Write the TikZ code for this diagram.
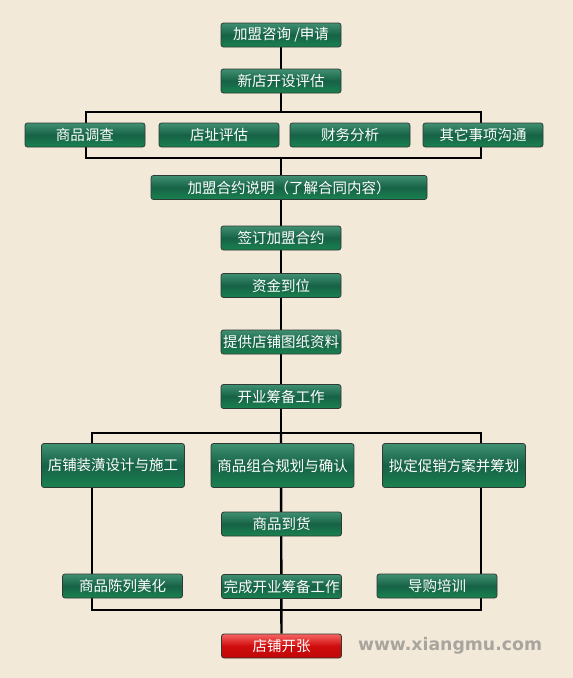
\documentclass[tikz,border=0pt]{standalone}
\usepackage{fontspec}
\newfontfamily\cjk{Noto Sans CJK SC}
\setsansfont{DejaVu Sans}
\usetikzlibrary{backgrounds}
\definecolor{bgc}{RGB}{242,233,217}
\definecolor{gtop}{RGB}{64,144,114}
\definecolor{gmid}{RGB}{22,98,70}
\definecolor{gbot}{RGB}{26,130,80}
\definecolor{rtop}{RGB}{246,100,100}
\definecolor{rmid}{RGB}{208,12,12}
\definecolor{rbot}{RGB}{190,8,8}
\definecolor{edgec}{RGB}{48,58,52}
\definecolor{markc}{RGB}{168,164,158}
\tikzset{
  gbox/.style={rectangle,rounded corners=2.5pt,draw=edgec,line width=0.8pt,top color=gtop,bottom color=gbot,middle color=gmid,minimum width=120pt,minimum height=24pt,inner sep=0pt,text=white,font=\cjk\fontsize{14.5}{16}\selectfont},
  tall/.style={minimum width=143pt,minimum height=44pt},
  rbox/.style={gbox,top color=rtop,bottom color=rbot,middle color=rmid},
  link/.style={line width=2.4pt,black},
}
\begin{document}
\begin{tikzpicture}[x=1pt,y=-1pt]
  \useasboundingbox (0,0) rectangle (573,678);
  % steps of the flow
  \node[gbox] (apply) at (281,35) {加盟咨询 /申请};
  \node[gbox] (assess) at (281,81) {新店开设评估};
  \node[gbox] (survey) at (85,135) {商品调查};
  \node[gbox] (site) at (219,135) {店址评估};
  \node[gbox] (finance) at (350,135) {财务分析};
  \node[gbox] (other) at (483,135) {其它事项沟通};
  \node[gbox,minimum width=276pt] (explain) at (289,187.5) {加盟合约说明（了解合同内容）};
  \node[gbox] (sign) at (281,238) {签订加盟合约};
  \node[gbox] (fund) at (281,285.5) {资金到位};
  \node[gbox] (plans) at (281,342) {提供店铺图纸资料};
  \node[gbox] (prep) at (281,396.5) {开业筹备工作};
  \node[gbox,tall] (decor) at (113,465.5) {店铺装潢设计与施工};
  \node[gbox,tall] (mix) at (282.5,465.5) {商品组合规划与确认};
  \node[gbox,tall] (promo) at (454,465.5) {拟定促销方案并筹划};
  \node[gbox] (arrive) at (281.5,524) {商品到货};
  \node[gbox] (display) at (122.5,586) {商品陈列美化};
  \node[gbox] (done) at (281.5,586.5) {完成开业筹备工作};
  \node[gbox] (guide) at (437,586) {导购培训};
  \node[rbox] (open) at (281.5,646) {店铺开张};
  \node[font=\sffamily\bfseries\fontsize{17.3}{17}\selectfont,text=markc,anchor=base] (mark) at (450,650) {www.xiangmu.com};
  % bus lines
  \coordinate (upL) at (86,112);
  \coordinate (upR) at (481,112);
  \coordinate (loL) at (86,158);
  \coordinate (loR) at (481,158);
  \coordinate (midL) at (92,433);
  \coordinate (midR) at (481,433);
  \coordinate (botL) at (92,610);
  \coordinate (botR) at (481,610);
  \begin{scope}[on background layer]
    \fill[bgc] (0,0) rectangle (573,678);
    \draw[link] (apply) -- (assess |- upL);
    \draw[link] (upL |- survey) -- (upL) -- (upR) -- (upR |- other);
    \draw[link] (loL |- survey) -- (loL) -- (loR) -- (loR |- other);
    \draw[link] (assess |- loL) -- (assess |- explain);
    \draw[link] (sign |- explain) -- (prep |- midL);
    \draw[link] (midL |- decor) -- (midL) -- (midR) -- (midR |- promo);
    \draw[link] (midL |- decor) -- (botL) -- (botR) -- (midR |- promo);
    \draw[link] (prep |- midL) -- (open);
  \end{scope}
\end{tikzpicture}
\end{document}
